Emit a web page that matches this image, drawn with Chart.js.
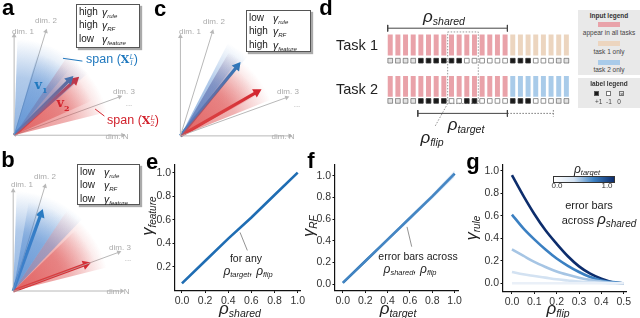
<!DOCTYPE html>
<html>
<head>
<meta charset="utf-8">
<script src="https://cdn.jsdelivr.net/npm/chart.js@4.4.1/dist/chart.umd.min.js"></script>
<style>
  html, body { margin: 0; padding: 0; background: #fff; }
  body { position: relative; width: 640px; height: 318px; overflow: hidden;
         font-family: "Liberation Sans", Arial, sans-serif; color: #222; }
  canvas { position: absolute; }
  .t { position: absolute; white-space: nowrap; line-height: 1; transform: translate(-50%, -50%); }
  .pl { font-weight: bold; font-size: 22px; color: #000; }
  .dim { font-size: 8px; color: #aaa; }
  .rho { font-style: italic; font-size: 17px; color: #222; }
  .rho .s { font-size: 10.5px; position: relative; top: 3px; }
  .rs { font-style: italic; font-size: 12px; color: #222; }
  .rs .s { font-size: 7.5px; position: relative; top: 2px; }
  .gam { font-style: italic; font-size: 16px; color: #222; }
  .gam .s { font-size: 10px; position: relative; top: 3px; }
  .note { font-size: 10.5px; color: #222; }
  .box { position: absolute; background: #fff; border: 1px solid #555; box-shadow: 2px 2px 1px #aaa; }
  .row { position: absolute; font-size: 10px; line-height: 1; white-space: nowrap; color: #222; }
  .row i { font-size: 10.5px; }
  .row .s { font-size: 6px; font-style: italic; position: relative; top: 2px; }
  .span { font-size: 12.5px; }
  .bx { font-family: "DejaVu Serif", serif; font-weight: bold; font-size: 11px; }
  .ss { display: inline-block; vertical-align: middle; font-family: "DejaVu Serif", serif;
        font-style: italic; font-size: 6.5px; line-height: 6px; }
  .ss span { display: block; }
  .vv { font-family: "DejaVu Serif", serif; font-weight: bold; font-size: 13px; }
  .vv sub { font-size: 8px; }
  .lg { position: absolute; background: #e9e9e9; }
  .lg .c { position: absolute; left: 0; right: 0; text-align: center; font-size: 6.5px; line-height: 1; color: #444; white-space: nowrap; }
  .lg .h { font-weight: bold; color: #333; }
  .sw { position: absolute; width: 22px; height: 5px; }
  .sq { position: absolute; width: 5px; height: 5px; box-sizing: border-box; border: 0.8px solid #555; font-size: 6px; line-height: 4px; text-align: center; }
</style>
</head>
<body>
<canvas id="cA" width="150" height="150" style="left:0;top:0"></canvas>
<canvas id="cB" width="150" height="168" style="left:0;top:150px"></canvas>
<canvas id="cC" width="165" height="150" style="left:150px;top:0"></canvas>
<canvas id="cD" width="255" height="150" style="left:320px;top:0"></canvas>
<canvas id="cE" width="170" height="168" style="left:140px;top:150px"></canvas>
<canvas id="cF" width="170" height="168" style="left:305px;top:150px"></canvas>
<canvas id="cG" width="165" height="168" style="left:475px;top:150px"></canvas>

<script>
// ---------- data ----------
// panels a-c: feature dimensions and the two task vectors (angle in deg, length)
const DIM_NAMES = ['dim. 1', 'dim. 2', 'dim. 3', 'dim. N'];
const DIM_ANGLES = [90, 73, 20, 0];
const DIM_LENGTHS = [110, 120, 124, 120];

const aVecAngles = [45, 42];    // v1 (blue), v2 (red)
const aVecLengths = [90, 94];
const bVecAngles = [70, 20];
const bVecLengths = [93, 89];
const cVecAngles = [51, 30];
const cVecLengths = [102, 100];

// span fans: [from deg, to deg, radius]
const aBlueFan = [[88, 40, 104], [74, 50, 92]];
const aRedFan  = [[56, 14, 104], [46, 24, 92]];
const bBlueFan = [[88, 46, 108], [80, 56, 98]];
const bRedFan  = [[56, 14, 104], [44, 20, 94]];
const cBlueFan = [[63, 50, 112], [60, 53, 104]];
const cRedFan  = [[60, 22, 104], [50, 28, 94]];

// panel d: input type per slot and label per slot
const task1Inputs = ['s','s','s','s','s','s','s','s','s','s','s','s','s','s','s','s','1','1','1','1','1','1','1','1'];
const task2Inputs = ['s','s','s','s','s','s','s','s','s','s','s','s','s','s','s','s','2','2','2','2','2','2','2','2'];
const task1Labels = [0,0,0,0, 1,1,1,1,1,1, -1,-1,-1,-1,-1,-1, 1,1,1, -1,-1,-1, 0,0];
const task2Labels = [0,0,0,0, 1,1,1,1, -1,-1, 1,1, -1,-1,-1,-1, 1,1,1, -1,-1,-1, 0,0];

// panel e
const rhoShared = [0.0, 0.2, 0.4, 0.6, 0.8, 1.0];
const gammaFeature = [0.06, 0.25, 0.44, 0.62, 0.81, 1.0];

// panel f
const rhoTarget = [0.0, 0.2, 0.4, 0.6, 0.8, 1.0];
const gammaRF = [0.01, 0.21, 0.41, 0.61, 0.81, 1.02];
const gammaRFLow = [0.0, 0.198, 0.395, 0.592, 0.788, 0.99];
const gammaRFHigh = [0.02, 0.222, 0.425, 0.628, 0.832, 1.05];

// panel g
const rhoFlip = [0.0, 0.05, 0.1, 0.15, 0.2, 0.25, 0.3, 0.35, 0.4, 0.45, 0.5];
const targetLevels = [0.0, 0.1, 0.3, 0.6, 1.0];
const gammaRule = [
  [0.0, 0.0, 0.0, 0.0, 0.0, 0.0, 0.0, 0.0, 0.0, 0.0, 0.0],
  [0.10, 0.08, 0.065, 0.05, 0.035, 0.025, 0.015, 0.01, 0.005, 0.0, 0.0],
  [0.30, 0.245, 0.19, 0.145, 0.105, 0.075, 0.05, 0.03, 0.015, 0.005, 0.0],
  [0.61, 0.49, 0.39, 0.30, 0.22, 0.155, 0.10, 0.055, 0.025, 0.01, 0.0],
  [0.96, 0.78, 0.615, 0.47, 0.35, 0.24, 0.15, 0.085, 0.04, 0.01, 0.0]
];
const levelColors = ['#eaf0f8', '#d3e2f2', '#a6c5e4', '#3b80c2', '#0d2d6c'];

// ---------- helpers ----------
const BLUE = '#1f78be', RED = '#d2232d', GREY = '#b8b8b8';
const INPUT_COLORS = { s: '#e9a2a9', '1': '#ecd5bf', '2': '#a9cbe9' };

function polar(deg, r) {
  const a = deg * Math.PI / 180;
  return { x: r * Math.cos(a), y: r * Math.sin(a) };
}

// radial fade centred on the origin, transparent beyond radius r
function fanFill(rgb, r) {
  return (c) => {
    const ch = c.chart, sx = ch.scales.x, sy = ch.scales.y;
    const fallback = `rgba(${rgb},0.3)`;
    if (!ch.chartArea || !sx || !sy) return fallback;
    const ox = sx.getPixelForValue(0), oy = sy.getPixelForValue(0);
    const rp = Math.abs(sx.getPixelForValue(r) - ox);
    if (!isFinite(ox) || !isFinite(oy) || !(rp > 0)) return fallback;
    const g = ch.ctx.createRadialGradient(ox, oy, 0, ox, oy, rp);
    g.addColorStop(0, `rgba(${rgb},0.6)`);
    g.addColorStop(0.6, `rgba(${rgb},0.42)`);
    g.addColorStop(1, `rgba(${rgb},0)`);
    return g;
  };
}

// one triangle whose far edge lies outside the fade radius -> a soft sector
function wedge([a0, a1, r], rgb) {
  const far = r / Math.cos((a0 - a1) / 2 * Math.PI / 180);
  const pts = [{ x: 0, y: 0 }, polar(a0, far), polar(a1, far)];
  return { data: pts, showLine: true, fill: 'shape', borderWidth: 0, borderColor: 'transparent',
           pointRadius: 0, backgroundColor: fanFill(rgb, r) };
}

function arrow(angle, len, color, width, head) {
  return {
    data: [{ x: 0, y: 0 }, polar(angle, len - head)],
    showLine: true, borderColor: color, borderWidth: width, fill: false,
    pointRadius: [0, head], pointStyle: 'triangle', pointRotation: 90 - angle,
    pointBackgroundColor: color, pointBorderWidth: 0
  };
}

function seg(points, color, width, dash) {
  return { data: points, showLine: true, borderColor: color, borderWidth: width,
           borderDash: dash || [], pointRadius: 0, fill: false };
}

function vectorPanel(id, xr, yr, blueFan, redFan, angles, lengths, extra) {
  const ds = [];
  blueFan.forEach(w => ds.push(wedge(w, '70,130,205')));
  redFan.forEach(w => ds.push(wedge(w, '220,70,70')));
  DIM_ANGLES.forEach((a, i) => ds.push(arrow(a, DIM_LENGTHS[i], GREY, 1, 2.8)));
  ds.push(arrow(angles[0], lengths[0], BLUE, 3.2, 5.5));
  ds.push(arrow(angles[1], lengths[1], RED, 3.2, 5.5));
  (extra || []).forEach(d => ds.push(d));
  return new Chart(document.getElementById(id), {
    type: 'scatter',
    data: { datasets: ds },
    options: {
      responsive: false, animation: false, events: [],
      layout: { padding: 0 },
      plugins: { legend: { display: false }, tooltip: { enabled: false } },
      scales: {
        x: { type: 'linear', display: false, min: xr[0], max: xr[1] },
        y: { type: 'linear', display: false, min: yr[0], max: yr[1] }
      }
    }
  });
}

// ---------- panels a, b, c ----------
vectorPanel('cA', [-9.3, 140.7], [-10, 140], aBlueFan, aRedFan, aVecAngles, aVecLengths, [
  seg([{ x: 52.7, y: 83 }, { x: 73.7, y: 80 }], BLUE, 1),
  seg([{ x: 87.4, y: 28.3 }, { x: 97.4, y: 20.7 }], RED, 1)
]);
vectorPanel('cB', [-8.3, 141.7], [-23, 145], bBlueFan, bRedFan, bVecAngles, bVecLengths);
vectorPanel('cC', [-26.7, 138.3], [-9.3, 140.7], cBlueFan, cRedFan, cVecAngles, cVecLengths);

// ---------- panel d ----------
const slots = task1Inputs.map((_, i) => i);
const ROW = { bar1: [31.7, 54.3], lab1: 59.7, bar2: [76, 98.3], lab2: 102.7 };

function labelSquares(labels, y) {
  return {
    type: 'scatter',
    data: labels.map((v, i) => ({ x: i, y })),
    pointStyle: 'rect', pointRadius: 3.3,
    pointBackgroundColor: labels.map(v => v === 1 ? '#1a1a1a' : (v === 0 ? '#e4e4e4' : '#fff')),
    pointBorderColor: labels.map(v => v === 1 ? '#333' : '#777'),
    pointBorderWidth: 0.8
  };
}
function labelCrosses(labels, y) {
  return {
    type: 'scatter',
    data: labels.map((v, i) => ({ x: i, y })).filter((p, i) => labels[i] === 0),
    pointStyle: 'crossRot', pointRadius: 3.1, pointBorderColor: '#555', pointBorderWidth: 0.8
  };
}
function line(points, color, width, dash) {
  return Object.assign({ type: 'scatter' }, seg(points, color, width, dash));
}

new Chart(document.getElementById('cD'), {
  type: 'bar',
  data: {
    datasets: [
      { data: slots.map(i => ({ x: i, y: ROW.bar1 })), backgroundColor: task1Inputs.map(k => INPUT_COLORS[k]),
        grouped: false, barPercentage: 0.65, categoryPercentage: 1, borderWidth: 0 },
      { data: slots.map(i => ({ x: i, y: ROW.bar2 })), backgroundColor: task2Inputs.map(k => INPUT_COLORS[k]),
        grouped: false, barPercentage: 0.65, categoryPercentage: 1, borderWidth: 0 },
      labelSquares(task1Labels, ROW.lab1), labelCrosses(task1Labels, ROW.lab1),
      labelSquares(task2Labels, ROW.lab2), labelCrosses(task2Labels, ROW.lab2),
      // rho_shared bracket
      line([{ x: -0.33, y: 25 }, { x: 15.3, y: 25 }], '#444', 1),
      line([{ x: -0.33, y: 21.5 }, { x: -0.33, y: 28.5 }], '#444', 1),
      line([{ x: 15.3, y: 21.5 }, { x: 15.3, y: 28.5 }], '#444', 1),
      // rho_target bracket
      line([{ x: 3.6, y: 116 }, { x: 15.3, y: 116 }], '#444', 1),
      line([{ x: 3.6, y: 112.5 }, { x: 3.6, y: 119.5 }], '#444', 1),
      line([{ x: 15.3, y: 112.5 }, { x: 15.3, y: 119.5 }], '#444', 1),
      line([{ x: 15.3, y: 116 }, { x: 21.3, y: 116 }], '#777', 1, [1.5, 1.5]),
      line([{ x: 21.3, y: 112.5 }, { x: 21.3, y: 119.5 }], '#777', 1, [1.5, 1.5]),
      // rho_flip box + leader
      line([{ x: 7.5, y: 29 }, { x: 11.5, y: 29 }, { x: 11.5, y: 105.5 }, { x: 7.5, y: 105.5 }, { x: 7.5, y: 29 }], '#999', 1, [1.5, 1.5]),
      line([{ x: 7.5, y: 105.5 }, { x: 5.84, y: 130 }], '#888', 0.9, [1.5, 1.5])
    ]
  },
  options: {
    responsive: false, animation: false, events: [],
    layout: { padding: { left: 66.4, right: 4.6, top: 0, bottom: 0 } },
    plugins: { legend: { display: false }, tooltip: { enabled: false } },
    scales: {
      x: { type: 'linear', display: false, offset: false, min: -0.5, max: 23.5 },
      y: { type: 'linear', display: false, min: 0, max: 150, reverse: true }
    }
  }
});

// ---------- panels e, f, g ----------
const tickFont = { family: 'Liberation Sans', size: 10.5 };
function axisOpts(r, fit) {
  return {
    type: 'linear', min: r.min, max: r.max,
    border: { display: true, color: '#111', width: 1.2 },
    grid: { display: true, drawOnChartArea: false, drawTicks: true, tickLength: 2.5, color: '#111', lineWidth: 1 },
    ticks: { stepSize: r.step, includeBounds: false, autoSkip: false, maxRotation: 0,
             font: tickFont, color: '#333', padding: 1.5, callback: v => Number(v).toFixed(1) },
    afterBuildTicks: r.hideZero ? (s => { s.ticks = s.ticks.filter(t => t.value > 0.01); }) : undefined,
    afterFit: fit
  };
}
function plotPanel(id, cfg, datasets) {
  return new Chart(document.getElementById(id), {
    type: 'scatter',
    data: { datasets },
    options: {
      responsive: false, animation: false, events: [],
      layout: { padding: { top: 15, right: cfg.pr, left: 0, bottom: 0 } },
      plugins: { legend: { display: false }, tooltip: { enabled: false } },
      scales: {
        x: axisOpts(cfg.x, s => { s.height = cfg.xh; }),
        y: axisOpts(cfg.y, s => { s.width = cfg.yw; })
      }
    }
  });
}
function series(xs, ys, color, width, extra) {
  return Object.assign({ data: xs.map((x, i) => ({ x, y: ys[i] })), showLine: true,
    borderColor: color, borderWidth: width, pointRadius: 0, fill: false }, extra || {});
}

plotPanel('cE', { pr: 10, xh: 27.5, yw: 35,
  x: { min: -0.06, max: 1.02, step: 0.2 }, y: { min: 0, max: 1.065, step: 0.2, hideZero: true } }, [
  series(rhoShared, gammaFeature, '#1f6db3', 2.6),
  seg([{ x: 0.502, y: 0.493 }, { x: 0.565, y: 0.34 }], '#777', 0.8)
]);

plotPanel('cF', { pr: 17, xh: 27.5, yw: 30,
  x: { min: -0.07, max: 1.03, step: 0.2 }, y: { min: -0.06, max: 1.10, step: 0.2 } }, [
  series(rhoTarget, gammaRFLow, 'transparent', 0),
  series(rhoTarget, gammaRFHigh, 'transparent', 0, { fill: '-1', backgroundColor: 'rgba(140,180,225,0.35)' }),
  series(rhoTarget, gammaRF, '#1f6db3', 2.6),
  seg([{ x: 0.574, y: 0.528 }, { x: 0.616, y: 0.345 }], '#777', 0.8)
]);

plotPanel('cG', { pr: 14, xh: 26.5, yw: 28,
  x: { min: -0.04, max: 0.51, step: 0.1 }, y: { min: -0.073, max: 1.05, step: 0.2 } },
  gammaRule.map((ys, i) => series(rhoFlip, ys, levelColors[i], 2.6, { cubicInterpolationMode: 'monotone' }))
);

// ---------- text ----------
function addText(x, y, html, cls, style) {
  const d = document.createElement('div');
  d.className = 't ' + (cls || '');
  d.style.left = x + 'px';
  d.style.top = y + 'px';
  if (style) d.style.cssText += style;
  d.innerHTML = html;
  document.body.appendChild(d);
  return d;
}
const rho = s => `<span class="rho">ρ<span class="s">${s}</span></span>`;
const rhoSm = s => `ρ<span class="s">${s}</span>`;

// panel letters
[['a', 8, 8], ['b', 8, 160], ['c', 160, 9], ['d', 326, 8], ['e', 152, 162], ['f', 311, 161], ['g', 473, 162]]
  .forEach(([l, x, y]) => addText(x, y, l, 'pl'));

// dimension labels
const dimPos = {
  a: [[23, 32], [46, 21], [124, 92], [117, 137]],
  b: [[22, 185], [45, 177], [120, 248], [118, 292]],
  c: [[190, 32], [214, 22], [288, 92], [283, 137]]
};
const dotsPos = { a: [129, 104], b: [128, 259], c: [297, 105] };
Object.keys(dimPos).forEach(k => {
  dimPos[k].forEach(([x, y], i) => addText(x, y, DIM_NAMES[i], 'dim'));
  addText(dotsPos[k][0], dotsPos[k][1], '...', 'dim');
});

// span labels and vector names (panel a)
addText(112, 59, 'span (<span class="bx">X</span><span class="ss"><span>L</span><span>1</span></span>)', 'span', `color:${BLUE}`);
addText(133, 120, 'span (<span class="bx">X</span><span class="ss"><span>L</span><span>2</span></span>)', 'span', `color:${RED}`);
addText(41, 86, 'v<sub>1</sub>', 'vv', `color:${BLUE}`);
addText(63, 104, 'v<sub>2</sub>', 'vv', `color:${RED}`);

// gamma legends
function gammaLegend(left, top, w, h, words, gx) {
  const box = document.createElement('div');
  box.className = 'box';
  Object.assign(box.style, { left: left + 'px', top: top + 'px', width: w + 'px', height: h + 'px' });
  const subs = ['rule', 'RF', 'feature'];
  words.forEach((wd, i) => {
    const r = document.createElement('div');
    r.className = 'row';
    r.style.left = '2px';
    r.style.top = (2 + i * 13.3) + 'px';
    r.innerHTML = `${wd}<span style="position:absolute;left:${gx}px;top:0"><i>γ</i><span class="s">${subs[i]}</span></span>`;
    box.appendChild(r);
  });
  document.body.appendChild(box);
}
gammaLegend(76, 4, 62, 42, ['high', 'high', 'low'], 23);
gammaLegend(77, 164, 61, 39, ['low', 'low', 'low'], 24);
gammaLegend(246, 10, 63, 40, ['low', 'high', 'high'], 24);

// panel d text
addText(357, 45, 'Task 1', '', 'font-size:14.5px;color:#222');
addText(357, 89, 'Task 2', '', 'font-size:14.5px;color:#222');
addText(444, 16, rho('shared'));
addText(466, 124, rho('target'));
addText(432, 137, rho('flip'));

// panel d legends
const inLg = document.createElement('div');
inLg.className = 'lg';
Object.assign(inLg.style, { left: '578px', top: '10px', width: '62px', height: '65px' });
inLg.innerHTML = `
  <div class="c h" style="top:3px">Input legend</div>
  <div class="sw" style="left:20px;top:12px;background:${INPUT_COLORS.s}"></div>
  <div class="c" style="top:20px">appear in all tasks</div>
  <div class="sw" style="left:20px;top:31px;background:${INPUT_COLORS['1']}"></div>
  <div class="c" style="top:39px">task 1 only</div>
  <div class="sw" style="left:20px;top:50px;background:${INPUT_COLORS['2']}"></div>
  <div class="c" style="top:57px">task 2 only</div>`;
document.body.appendChild(inLg);

const labLg = document.createElement('div');
labLg.className = 'lg';
Object.assign(labLg.style, { left: '578px', top: '78px', width: '62px', height: '30px' });
labLg.innerHTML = `
  <div class="c h" style="top:3px">label legend</div>
  <div class="sq" style="left:16px;top:13px;background:#1a1a1a"></div>
  <div class="sq" style="left:28px;top:13px;background:#fff;border-color:#777"></div>
  <div class="sq" style="left:41px;top:13px;background:#e4e4e4;border-color:#777;color:#555">×</div>
  <div class="c" style="top:21px;left:-2px">+1 &nbsp;-1 &nbsp;&nbsp;0</div>`;
document.body.appendChild(labLg);

// axis titles
addText(148, 216, '<span class="gam">γ<span class="s">feature</span></span>', '', 'transform:translate(-50%,-50%) rotate(-90deg)');
addText(309, 226, '<span class="gam">γ<span class="s">RF</span></span>', '', 'transform:translate(-50%,-50%) rotate(-90deg)');
addText(472, 228, '<span class="gam">γ<span class="s">rule</span></span>', '', 'transform:translate(-50%,-50%) rotate(-90deg)');
addText(240, 308, rho('shared'));
addText(398, 308, rho('target'));
addText(558, 308, rho('flip'));

// annotations
addText(246, 258, 'for any', 'note');
addText(248, 270, `<span class="rs">${rhoSm('target')}, ${rhoSm('flip')}</span>`);
addText(418, 256, 'error bars across', 'note');
addText(410, 268, `<span class="rs">${rhoSm('shared')}, ${rhoSm('flip')}</span>`);
addText(589, 205, 'error bars', 'note', 'font-size:11px');
addText(599, 218, `across <span class="rho" style="font-size:15px">ρ<span class="s" style="font-size:10px">shared</span></span>`, 'note', 'font-size:11px');

// colour bar for rho_target (panel g)
addText(587, 168, `<span class="rs">${rhoSm('target')}</span>`);
const cb = document.createElement('div');
Object.assign(cb.style, { position: 'absolute', left: '553px', top: '176px', width: '60px', height: '5px',
  border: '0.8px solid #333', background: `linear-gradient(to right, #ffffff, ${levelColors[1]}, ${levelColors[3]}, ${levelColors[4]})` });
document.body.appendChild(cb);
addText(557, 186, '0.0', '', 'font-size:8px;color:#333');
addText(607, 186, '1.0', '', 'font-size:8px;color:#333');
</script>
</body>
</html>
